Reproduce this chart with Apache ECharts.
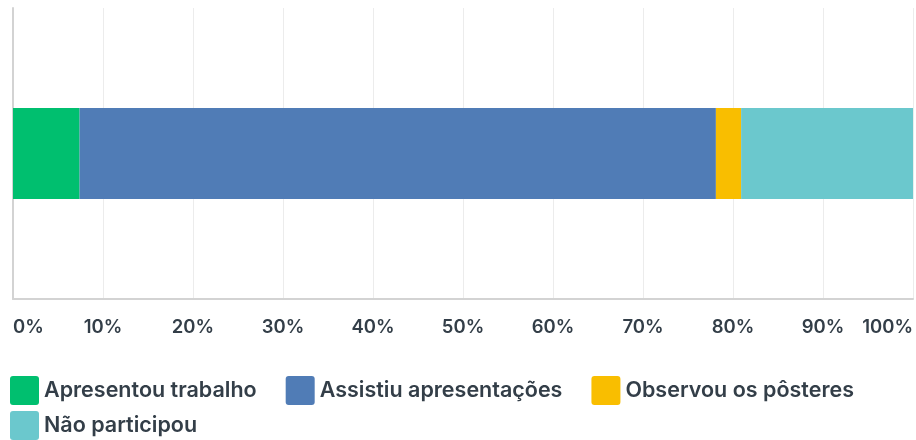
<!DOCTYPE html>
<html><head><meta charset="utf-8">
<script src="https://cdn.jsdelivr.net/npm/echarts@6/dist/echarts.min.js"></script>
<style>html,body{margin:0;padding:0;background:#fff;overflow:hidden}#c{width:916px;height:440px}</style>
</head><body><div id="c"></div>
<script>
const categories = ['Resposta'];
const seriesNames = ['Apresentou trabalho','Assistiu apresentações','Observou os pôsteres','Não participou'];
const apresentou = [7.4];
const assistiu = [70.7];
const observou = [2.8];
const naoParticipou = [19.1];
const colors = ['#00bf6f','#507cb6','#f9be00','#6bc8cd'];
const values = [apresentou, assistiu, observou, naoParticipou];
const FONT = 'Inter';
const ICON = 'path://M3,0H26A3,3,0,0,1,29,3V26A3,3,0,0,1,26,29H3A3,3,0,0,1,0,26V3A3,3,0,0,1,3,0Z';
const legendText = {fontFamily:FONT,fontSize:21.5,fontWeight:600,color:'#333e48'};
const chart = echarts.init(document.getElementById('c'), null, {renderer:'canvas'});
chart.setOption({
  animation:false,
  textStyle:{fontFamily:FONT},
  grid:{left:13,right:0,top:8,bottom:141,containLabel:false},
  legend:[{
    left:5, top:371, itemWidth:29, itemHeight:29, itemGap:29, icon:ICON,
    textStyle:legendText, data:seriesNames.slice(0,3)
  },{
    left:5, top:406, itemWidth:29, itemHeight:29, itemGap:29, icon:ICON,
    textStyle:legendText, data:seriesNames.slice(3)
  }],
  xAxis:{
    type:'value', min:0, max:100, interval:10,
    axisLine:{show:true,lineStyle:{color:'#d3d3d3',width:2}},
    axisTick:{show:false},
    splitLine:{lineStyle:{color:'#ececec',width:1}},
    axisLabel:{formatter:'{value}%',fontFamily:FONT,fontSize:18.5,fontWeight:600,color:'#333e48',margin:19,
      alignMinLabel:'left',alignMaxLabel:'right'}
  },
  yAxis:{
    type:'category', data:categories,
    axisLine:{show:true,lineStyle:{color:'#d3d3d3',width:2}},
    axisTick:{show:false}, axisLabel:{show:false}, splitLine:{show:false}
  },
  series: seriesNames.map((n,i)=>({
    name:n, type:'bar', stack:'total', data:values[i], barWidth:91,
    itemStyle:{color:colors[i]}
  }))
});
</script></body></html>
